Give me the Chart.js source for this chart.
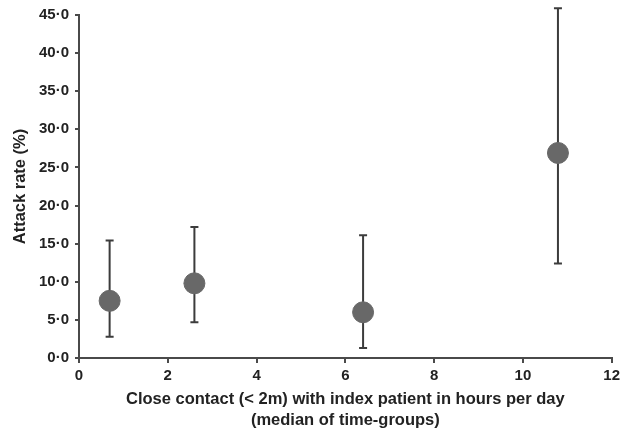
<!DOCTYPE html>
<html>
<head>
<meta charset="utf-8">
<script src="https://cdn.jsdelivr.net/npm/chart.js@4"></script>
<style>
  html, body { margin: 0; padding: 0; background: #fff; }
  #wrap { width: 624px; height: 431px; }
</style>
</head>
<body>
<div id="wrap"><canvas id="myChart" width="624" height="431"></canvas></div>
<script>
// dane
const contact_hours = [0.69, 2.6, 6.4, 10.79];
const attack_rate = [7.5, 9.8, 6.0, 26.9];
const ci_lower = [2.8, 4.7, 1.3, 12.4];
const ci_upper = [15.4, 17.2, 16.1, 45.9];
const x_ticks = [0, 2, 4, 6, 8, 10, 12];
const y_ticks = [0, 5, 10, 15, 20, 25, 30, 35, 40, 45];

const font_family = '"Liberation Sans", Arial, sans-serif';

// slupki bledow rysowane przez skale wykresu
const errorBars = {
    id: 'errorBars',
    beforeDatasetsDraw(chart) {
        const ctx = chart.ctx;
        const xs = chart.scales.x;
        const ys = chart.scales.y;
        ctx.save();
        ctx.strokeStyle = '#3c3c3c';
        ctx.lineWidth = 2;
        for (let i = 0; i < contact_hours.length; i++) {
            const px = xs.getPixelForValue(contact_hours[i]);
            const top = ys.getPixelForValue(ci_upper[i]);
            const bottom = ys.getPixelForValue(ci_lower[i]);
            ctx.beginPath();
            ctx.moveTo(px, top);
            ctx.lineTo(px, bottom);
            ctx.moveTo(px - 4, top);
            ctx.lineTo(px + 4, top);
            ctx.moveTo(px - 4, bottom);
            ctx.lineTo(px + 4, bottom);
            ctx.stroke();
        }
        ctx.restore();
    }
};

const data = {
    datasets: [{
        data: contact_hours.map((x, i) => ({ x: x, y: attack_rate[i] })),
        backgroundColor: '#686868',
        borderColor: '#686868',
        pointRadius: 10.5,
        pointHoverRadius: 10.5,
        clip: false,
    }]
};

const config = {
    type: 'scatter',
    data: data,
    options: {
        responsive: false,
        animation: false,
        events: [],
        layout: {
            padding: { left: 0, right: 9, top: 14, bottom: 0 }
        },
        plugins: {
            legend: { display: false },
            tooltip: { enabled: false }
        },
        scales: {
            x: {
                type: 'linear',
                min: 0,
                max: 12,
                afterBuildTicks(scale) {
                    scale.ticks = x_ticks.map(v => ({ value: v }));
                },
                afterFit(scale) { scale.height = 73; },
                border: { display: true, color: '#4a4a4a', width: 2 },
                grid: { drawOnChartArea: false, drawTicks: true, tickLength: 5, color: '#4a4a4a', lineWidth: 2 },
                ticks: {
                    color: '#222',
                    padding: 4,
                    font: { family: font_family, size: 15, weight: 'bold' },
                    callback: v => String(v)
                },
                title: {
                    display: true,
                    text: ['Close contact (< 2m) with index patient in hours per day', '(median of time-groups)'],
                    color: '#222',
                    font: { family: font_family, size: 16.5, weight: 'bold', lineHeight: 1.27 },
                    padding: { top: 0, bottom: 0 }
                }
            },
            y: {
                type: 'linear',
                min: 0,
                max: 45,
                afterBuildTicks(scale) {
                    scale.ticks = y_ticks.map(v => ({ value: v }));
                },
                afterFit(scale) { scale.width = 79; },
                border: { display: true, color: '#4a4a4a', width: 2 },
                grid: { drawOnChartArea: false, drawTicks: true, tickLength: 4, color: '#4a4a4a', lineWidth: 2 },
                ticks: {
                    color: '#222',
                    padding: 6,
                    font: { family: font_family, size: 15, weight: 'bold' },
                    callback: v => v.toFixed(1).replace('.', '·')
                },
                title: {
                    display: true,
                    text: 'Attack rate (%)',
                    color: '#222',
                    font: { family: font_family, size: 16.5, weight: 'bold' },
                    padding: { top: 11, bottom: 0 }
                }
            }
        }
    },
    plugins: [errorBars]
};

const myChart = new Chart(
    document.getElementById('myChart'),
    config
);
</script>
</body>
</html>
